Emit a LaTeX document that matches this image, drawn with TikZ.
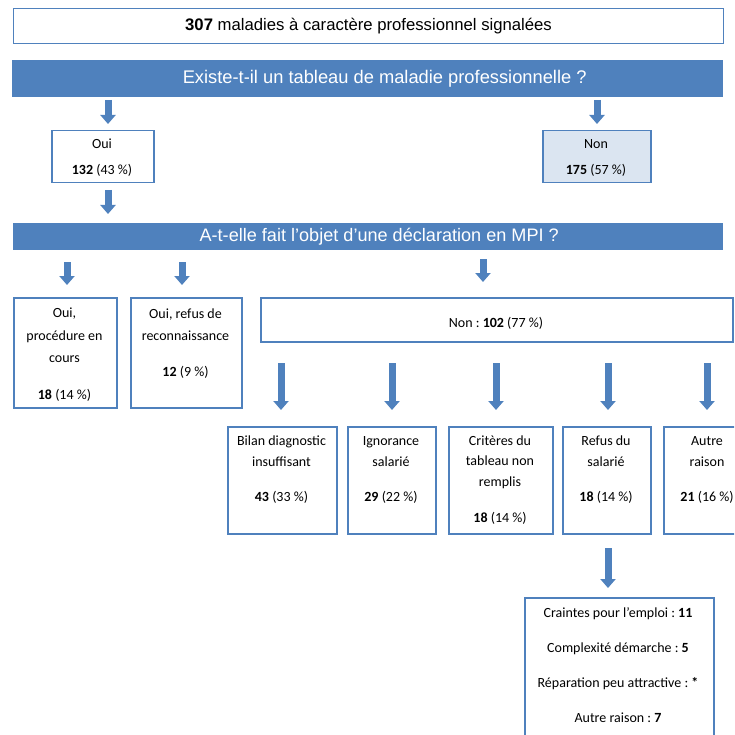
\documentclass[tikz,border=0pt]{standalone}
\usepackage{fontspec}
\setmainfont{Carlito}
\newfontfamily\arialf{Liberation Sans}
\usetikzlibrary{arrows.meta}
\frenchspacing
\definecolor{bblue}{HTML}{4F81BD}
\definecolor{lblue}{HTML}{DBE5F1}
\tikzset{
  bar/.style={fill=bblue, draw=none, inner sep=0pt, anchor=north west},
  bartxt/.style={text=white, inner sep=0pt},
  box/.style={draw=bblue, line width=1.5pt, fill=white, inner sep=0pt, anchor=north west},
  shadedbox/.style={box, fill=lblue},
  txtA/.style={align=center, inner sep=0pt, anchor=base, font=\fontsize{14}{22.5}\selectfont},
  txtB/.style={align=center, inner sep=0pt, anchor=base, font=\fontsize{14}{20.7}\selectfont},
  txtC/.style={align=center, inner sep=0pt, anchor=base, font=\fontsize{14}{35}\selectfont},
  arr/.style={draw=bblue, line width=7pt, -{Triangle[width=15pt, length=9pt]}},
}
\begin{document}
\begin{tikzpicture}[x=1pt, y=-1pt]
\useasboundingbox (0,0) rectangle (734,735);
\clip (0,0) rectangle (734,735);

% top box
\node[box, line width=1.1pt, minimum width=710, minimum height=35] (top) at (13,8) {};
\node[inner sep=0pt, font=\arialf\fontsize{16.7}{20}\selectfont] (top-t) at (top.center) {\textbf{307} maladies à caractère professionnel signalées};

% question 1
\node[bar, minimum width=711, minimum height=37] (q1) at (12,60) {};
\node[bartxt, font=\arialf\fontsize{18.3}{20}\selectfont] (q1-t) at ([xshift=17pt]q1.center) {Existe-t-il un tableau de maladie professionnelle ?};

\node[box, minimum width=102, minimum height=52] (oui) at (51,130) {};
\node[txtA] (oui-t) at (102,174.5) {Oui\\[3.5pt]\textbf{132} (43 \%)};
\node[shadedbox, minimum width=108, minimum height=52] (non) at (542,130) {};
\node[txtA] (non-t) at (596,174.5) {Non\\[3.5pt]\textbf{175} (57 \%)};

\coordinate (a1) at (108,100);
\coordinate (a2) at (597,100);
\draw[arr, shorten >=6pt] (a1) -- (a1 |- oui.north);
\draw[arr, shorten >=6pt] (a2) -- (a2 |- non.north);

% question 2
\node[bar, minimum width=710, minimum height=27] (q2) at (13,223) {};
\node[bartxt, font=\arialf\fontsize{18.1}{20}\selectfont] (q2-t) at ([xshift=11pt]q2.center) {A-t-elle fait l’objet d’une déclaration en MPI ?};
\coordinate (a3) at (108,190);
\draw[arr, shorten >=9pt] (a3) -- (a3 |- q2.north);

\node[box, minimum width=103, minimum height=110] (proc) at (13,297) {};
\node[txtA] (proc-t) at (64.5,399.5) {Oui,\\procédure en\\cours\\[14.5pt]\textbf{18} (14 \%)};
\node[box, minimum width=111, minimum height=110] (refus) at (130,297) {};
\node[txtA] (refus-t) at (185.5,376.5) {Oui, refus de\\reconnaissance\\[13.5pt]\textbf{12} (9 \%)};
\node[box, minimum width=472, minimum height=44] (non2) at (260,297) {};
\node[txtA] (non2-t) at (496,327.5) {Non : \textbf{102} (77 \%)};

\coordinate (a4) at (67,262);
\coordinate (a5) at (182,262);
\coordinate (a6) at (483,259);
\draw[arr, shorten >=12pt] (a4) -- (a4 |- proc.north);
\draw[arr, shorten >=12pt] (a5) -- (a5 |- refus.north);
\draw[arr, shorten >=15pt] (a6) -- (a6 |- non2.north);

% reasons
\node[box, minimum width=109, minimum height=107] (r1) at (227,426) {};
\node[txtB] (r1-t) at (281.5,501.5) {Bilan diagnostic\\insuffisant\\[14.3pt]\textbf{43} (33 \%)};
\node[box, minimum width=88, minimum height=107] (r2) at (347,426) {};
\node[txtB] (r2-t) at (391,501.5) {Ignorance\\salarié\\[14.3pt]\textbf{29} (22 \%)};
\node[box, minimum width=104, minimum height=107] (r3) at (448,426) {};
\node[txtB] (r3-t) at (500,522.5) {Critères du\\tableau non\\remplis\\[15.3pt]\textbf{18} (14 \%)};
\node[box, minimum width=88, minimum height=107] (r4) at (562,426) {};
\node[txtB] (r4-t) at (606,501.5) {Refus du\\salarié\\[14.3pt]\textbf{18} (14 \%)};
\node[box, minimum width=90, minimum height=107] (r5) at (663,426) {};
\node[txtB] (r5-t) at (707,501.5) {Autre\\raison\\[14.3pt]\textbf{21} (16 \%)};

\coordinate (b1) at (281,363);
\coordinate (b2) at (392,363);
\coordinate (b3) at (496,363);
\coordinate (b4) at (608,363);
\coordinate (b5) at (707,363);
\draw[arr, shorten >=16pt] (b1) -- (b1 |- r1.north);
\draw[arr, shorten >=16pt] (b2) -- (b2 |- r2.north);
\draw[arr, shorten >=16pt] (b3) -- (b3 |- r3.north);
\draw[arr, shorten >=16pt] (b4) -- (b4 |- r4.north);
\draw[arr, shorten >=16pt] (b5) -- (b5 |- r5.north);

% refusal detail
\node[box, minimum width=189, minimum height=150] (det) at (524,597) {};
\node[txtC] (det-t) at (618,722.5) {Craintes pour l’emploi : \textbf{11}\\Complexité démarche : \textbf{5}\\Réparation peu attractive : \textbf{*}\\Autre raison : \textbf{7}};
\coordinate (c1) at (608,548);
\draw[arr, shorten >=9pt] (c1) -- (c1 |- det.north);
\end{tikzpicture}
\end{document}
